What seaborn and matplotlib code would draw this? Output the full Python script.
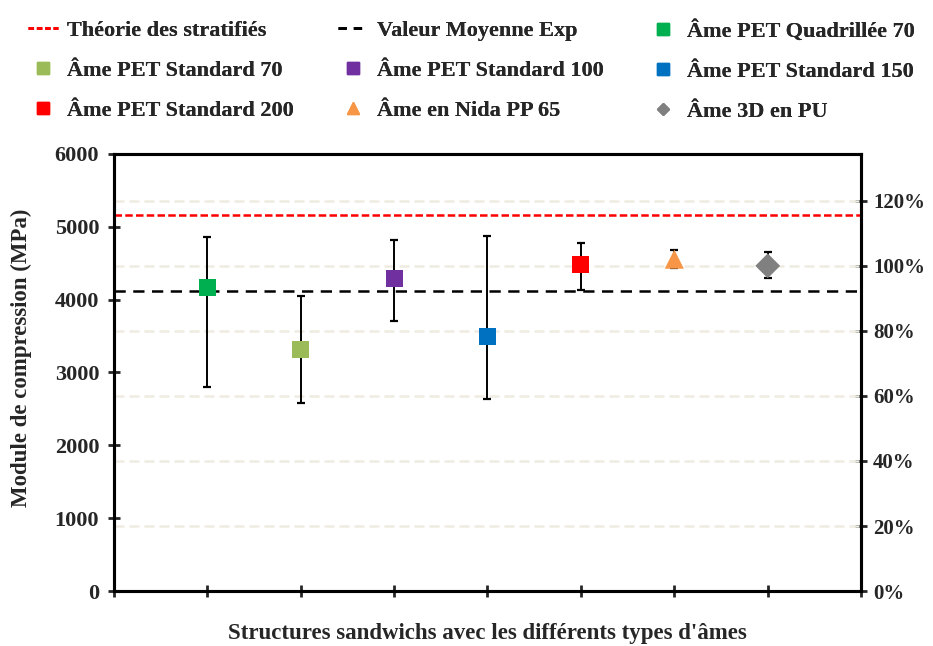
import numpy as np
import pandas as pd
import seaborn as sns
import matplotlib.pyplot as plt
from matplotlib.ticker import PercentFormatter
from matplotlib.lines import Line2D

sns.set_style("white")
plt.rcParams['font.family'] = ['Liberation Serif', 'DejaVu Serif']
plt.rcParams['font.weight'] = 'bold'

# data
names = ["Âme PET Quadrillée 70", "Âme PET Standard 70", "Âme PET Standard 100",
         "Âme PET Standard 150", "Âme PET Standard 200", "Âme en Nida PP 65", "Âme 3D en PU"]
modules = [4160, 3318, 4293, 3497, 4486, 4554, 4462]
err_high = [4851, 4055, 4810, 4874, 4782, 4682, 4650]
err_low = [2805, 2577, 3707, 2636, 4133, 4426, 4300]
colors = ["#00B050", "#9BBB59", "#7030A0", "#0070C0", "#FF0000", "#F79646", "#808080"]
markers = ["s", "s", "s", "s", "s", "^", "D"]
msizes = [150, 150, 150, 150, 150, 190, 160]
theorie = 5153
moyenne_exp = 4115
ref_100 = 4462  # 100 % on the right axis

df = pd.DataFrame({"name": names, "pos": np.arange(1, 8), "module": modules})

fig, ax = plt.subplots(figsize=(9.33, 6.46), dpi=100)
fig.subplots_adjust(left=0.122, right=0.923, bottom=0.085, top=0.762)
ax2 = ax.twinx()
ax.set_zorder(ax2.get_zorder() + 1)
ax.patch.set_visible(False)

# grid on right axis (behind)
ax2.set_ylim(0, 6000 / ref_100 * 100)
ax2.set_yticks([0, 20, 40, 60, 80, 100, 120])
ax2.yaxis.set_major_formatter(PercentFormatter(xmax=100, decimals=0))
for v in [20, 40, 60, 80, 100, 120]:
    ax2.axhline(v, color="#EEECE1", lw=1.8, ls=(0, (4, 2)))

ax.axhline(theorie, color="#FF0000", lw=1.8, ls=(0, (3, 1.3)), zorder=2)
ax.axhline(moyenne_exp, color="black", lw=1.8, ls=(0, (4.5, 3)), zorder=2)

yerr = [np.array(modules) - np.array(err_low), np.array(err_high) - np.array(modules)]
ax.errorbar(df["pos"], df["module"], yerr=yerr, fmt="none", ecolor="black",
            elinewidth=1.4, capsize=3, capthick=1.6, zorder=3)

sns.scatterplot(data=df, x="pos", y="module", hue="name", style="name", size="name",
                palette=dict(zip(names, colors)), markers=dict(zip(names, markers)),
                sizes=dict(zip(names, msizes)), linewidth=0, legend=False, ax=ax, zorder=4)

ax.set_xlim(0, 8)
ax.set_ylim(0, 6000)
ax.set_xticks(np.arange(0, 9))
ax.set_xticklabels([])
ax.set_yticks(np.arange(0, 6001, 1000))
ax.set_xlabel("Structures sandwichs avec les différents types d'âmes",
              fontsize=16.5, fontweight="bold")
ax.set_ylabel("Module de compression (MPa)", fontsize=16.5, fontweight="bold")
ax.xaxis.set_label_coords(0.5, -0.098)
ax.xaxis.label.set_va("center")
ax.yaxis.set_label_coords(-0.123, 0.533)
ax.yaxis.label.set_va("center")

for a in (ax, ax2):
    a.tick_params(axis="both", direction="inout", length=9, width=2)
    for s in a.spines.values():
        s.set_linewidth(2.2)
        s.set_color("black")
ax.tick_params(axis="x", bottom=True)
ax.tick_params(axis="y", left=True, labelsize=16, pad=6)
ax2.tick_params(axis="y", right=True, labelsize=15, pad=4)

# legend: three columns placed separately
h_theo = Line2D([], [], color="#FF0000", lw=2, ls=(0, (2, 1)))
h_moy = Line2D([], [], color="black", lw=2, ls=(0, (3, 2.5)))
h_pts = [Line2D([], [], ls="none", marker=m, color=c, markersize=ms)
         for m, c, ms in zip(markers, colors, [8.5, 8.5, 8.5, 8.5, 8.5, 8, 6.5])]
labels = ["Théorie des stratifiés", "Valeur Moyenne Exp"] + names
handles = [h_theo, h_moy] + h_pts
columns = [[0, 3, 6], [1, 4, 7], [2, 5, 8]]
col_x = [28, 338, 648]
for idx, x0 in zip(columns, col_x):
    leg = fig.legend([handles[i] for i in idx], [labels[i] for i in idx],
                     loc="upper left", bbox_to_anchor=(x0 / 933, 0.969), frameon=False,
                     fontsize=16, handlelength=1.35, handletextpad=0.4,
                     labelspacing=0.88, borderpad=0, borderaxespad=0)
    fig.add_artist(leg)

plt.savefig("out.png", dpi=100)
